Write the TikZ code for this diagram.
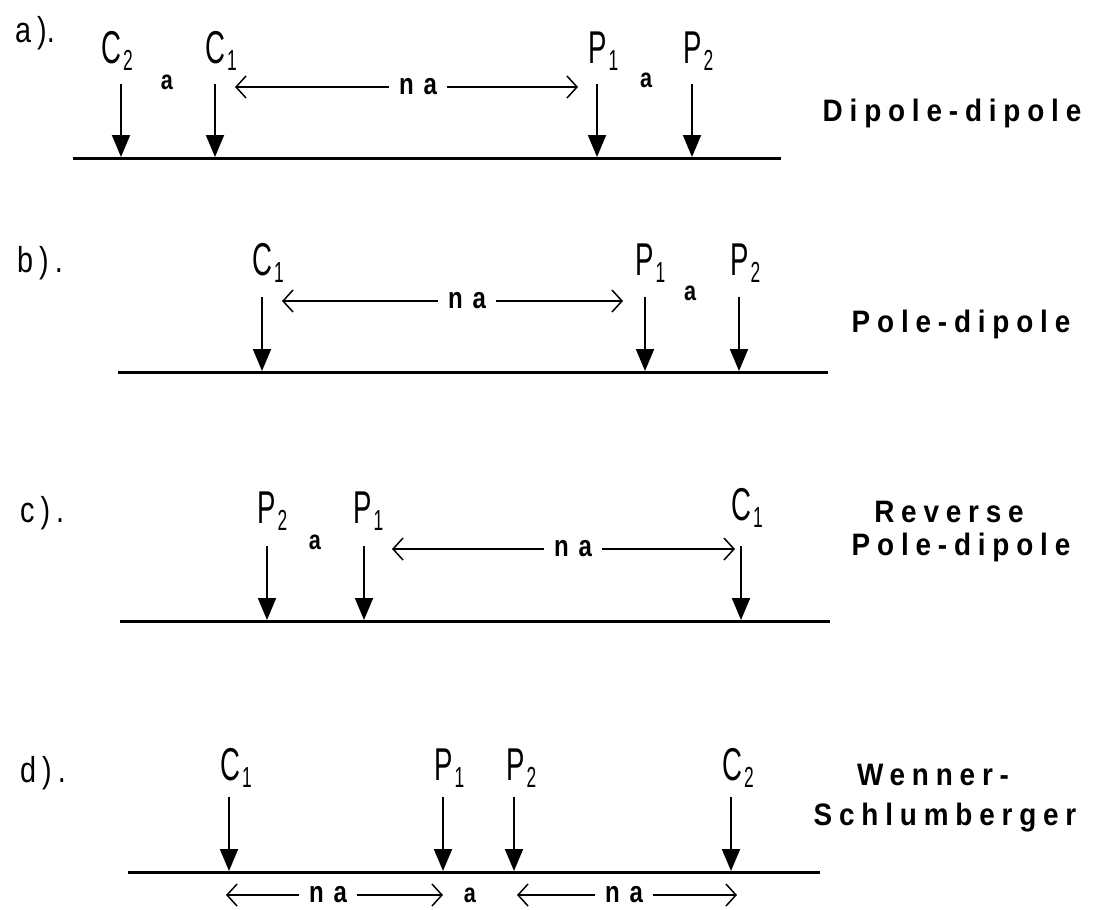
\documentclass[tikz,border=0pt]{standalone}
\usepackage{fontspec}
\setmainfont{Liberation Sans}
\newfontfamily\elfont[FakeStretch=0.6]{Liberation Sans}
\newfontfamily\sidefont[FakeStretch=0.9,LetterSpace=22]{Liberation Sans}
\newfontfamily\lblfont[FakeStretch=0.8]{Liberation Sans}
\usetikzlibrary{arrows.meta}
\newcommand\elec[2]{{\fontsize{46}{46}\selectfont #1}\hspace{2pt}\raisebox{-7pt}{\fontsize{29}{29}\selectfont #2}}
\begin{document}
\begin{tikzpicture}[x=1pt,y=-1pt,
  ground/.style={line width=3pt},
  probe/.style={line width=2pt,-{Triangle[length=22pt,width=18pt]}},
  span/.style={line width=1.5pt,-{Straight Barb[length=10pt,width=22pt,line width=1.5pt]}},
  elab/.style={anchor=base west,inner sep=0pt,font=\elfont},
  sp/.style={inner sep=0pt,font=\lblfont\bfseries\fontsize{27}{27}\selectfont},
  natext/.style={inner ysep=0pt,inner xsep=10pt,font=\lblfont\bfseries\fontsize{30}{30}\selectfont},
  panel/.style={anchor=base west,inner sep=0pt,font=\lblfont\fontsize{36}{36}\selectfont},
  side/.style={anchor=base,inner sep=0pt,font=\sidefont\bfseries\fontsize{31}{31}\selectfont}]
\useasboundingbox (0,0) rectangle (1095,910);

% ---------- a) ----------
\node[panel] (la) at (15,42) {a\,).};
\coordinate (aL) at (73,158); \coordinate (aR) at (781,158);
\draw[ground] (aL) -- (aR);
\node[elab] (aC2) at (101,63) {\elec{C}{2}};
\node[elab] (aC1) at (205,63) {\elec{C}{1}};
\node[elab] (aP1) at (588,63) {\elec{P}{1}};
\node[elab] (aP2) at (683,63) {\elec{P}{2}};
\foreach \n/\x in {1/121,2/215,3/597,4/692}{
  \coordinate (at\n) at (\x,84); \coordinate (ab\n) at (\x,157);
  \draw[probe] (at\n) -- (ab\n);}
\node[sp] (aa1) at (167,82) {a};
\node[sp] (aa2) at (646,80) {a};
\node[natext] (ana) at (418,87) {n\hspace{10pt}a};
\coordinate (anl) at (235,87); \coordinate (anr) at (578,87);
\draw[span] (ana.west) -- (anl);
\draw[span] (ana.east) -- (anr);
\node[side] (ad) at (952,121) {Dipole-dipole};

% ---------- b) ----------
\node[panel] (lb) at (17,272) {b\,)\,.};
\coordinate (bL) at (118,372); \coordinate (bR) at (828,372);
\draw[ground] (bL) -- (bR);
\node[elab] (bC1) at (252,275) {\elec{C}{1}};
\node[elab] (bP1) at (635,275) {\elec{P}{1}};
\node[elab] (bP2) at (730,275) {\elec{P}{2}};
\foreach \n/\x in {1/262,2/645,3/739}{
  \coordinate (bt\n) at (\x,297); \coordinate (bb\n) at (\x,371);
  \draw[probe] (bt\n) -- (bb\n);}
\node[sp] (ba1) at (690,293) {a};
\node[natext] (bna) at (467,301) {n\hspace{10pt}a};
\coordinate (bnl) at (282,301); \coordinate (bnr) at (623,301);
\draw[span] (bna.west) -- (bnl);
\draw[span] (bna.east) -- (bnr);
\node[side] (bd) at (961,332) {Pole-dipole};

% ---------- c) ----------
\node[panel] (lc) at (20,522) {c\,)\,.};
\coordinate (cL) at (120,621); \coordinate (cR) at (830,621);
\draw[ground] (cL) -- (cR);
\node[elab] (cP2) at (257,523) {\elec{P}{2}};
\node[elab] (cP1) at (353,523) {\elec{P}{1}};
\node[elab] (cC1) at (731,520) {\elec{C}{1}};
\foreach \n/\x in {1/267,2/364,3/741}{
  \coordinate (ct\n) at (\x,546); \coordinate (cb\n) at (\x,620);
  \draw[probe] (ct\n) -- (cb\n);}
\node[sp] (ca1) at (315,542) {a};
\node[natext] (cna) at (573,549) {n\hspace{10pt}a};
\coordinate (cnl) at (392,549); \coordinate (cnr) at (735,549);
\draw[span] (cna.west) -- (cnl);
\draw[span] (cna.east) -- (cnr);
\node[side] (cd1) at (949,522) {Reverse};
\node[side] (cd2) at (961,555) {Pole-dipole};

% ---------- d) ----------
\node[panel] (ld) at (20,782) {d\,)\,.};
\coordinate (dL) at (128,872); \coordinate (dR) at (820,872);
\draw[ground] (dL) -- (dR);
\node[elab] (dC1) at (220,780) {\elec{C}{1}};
\node[elab] (dP1) at (434,780) {\elec{P}{1}};
\node[elab] (dP2) at (506,780) {\elec{P}{2}};
\node[elab] (dC2) at (722,780) {\elec{C}{2}};
\foreach \n/\x in {1/229,2/443,3/514,4/731}{
  \coordinate (dt\n) at (\x,797); \coordinate (db\n) at (\x,871);
  \draw[probe] (dt\n) -- (db\n);}
\node[natext] (dna1) at (328,895) {n\hspace{10pt}a};
\coordinate (dn1l) at (226,895); \coordinate (dn1r) at (443,895);
\draw[span] (dna1.west) -- (dn1l);
\draw[span] (dna1.east) -- (dn1r);
\node[sp] (da1) at (470,895) {a};
\node[natext] (dna2) at (624,895) {n\hspace{10pt}a};
\coordinate (dn2l) at (517,895); \coordinate (dn2r) at (737,895);
\draw[span] (dna2.west) -- (dn2l);
\draw[span] (dna2.east) -- (dn2r);
\node[side] (dd1) at (933,785) {Wenner-};
\node[side] (dd2) at (945,825) {Schlumberger};
\end{tikzpicture}
\end{document}
